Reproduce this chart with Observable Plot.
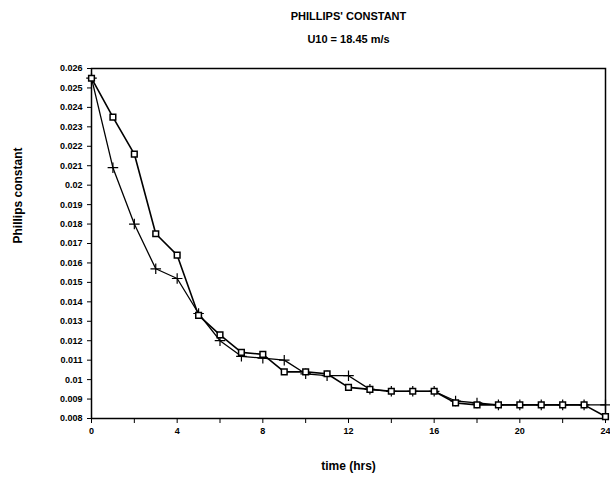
<!DOCTYPE html>
<html><head>
<script src="https://cdn.jsdelivr.net/npm/d3@7"></script>
<script src="https://cdn.jsdelivr.net/npm/@observablehq/plot@0.6"></script>
<style>body{margin:0;background:#fff;font-family:"Liberation Sans",Arial,sans-serif}</style>
</head><body><div id="c"></div>
<script>
const hours = d3.range(0,25);
const squareSeries = [0.0255,0.0235,0.0216,0.0175,0.0164,0.0133,0.0123,0.0114,0.0113,0.0104,0.0104,0.0103,0.0096,0.0095,0.0094,0.0094,0.0094,0.0088,0.0087,0.0087,0.0087,0.0087,0.0087,0.0087,0.0081];
const plusSeries = [0.0255,0.0209,0.0180,0.0157,0.0152,0.0134,0.0120,0.0112,0.0111,0.0110,0.0103,0.0102,0.0102,0.0095,0.0094,0.0094,0.0094,0.0089,0.0088,0.0087,0.0087,0.0087,0.0087,0.0087,0.0087];
const yTicks = d3.range(8,27).map(v=>v/1000);
const xTicks = d3.range(0,25,2);
const sq = hours.map((h,i)=>({h,v:squareSeries[i]}));
const pl = hours.map((h,i)=>({h,v:plusSeries[i]}));
const chart = Plot.plot({
  width:610, height:478, marginLeft:91, marginRight:5, marginTop:68, marginBottom:60,
  style:{fontFamily:"Liberation Sans, Arial, sans-serif", fontWeight:"bold", fontSize:"9px", color:"#000"},
  x:{domain:[0,24], label:null},
  y:{domain:[0.008,0.026], label:null},
  marks:[
    Plot.frame({stroke:"#000", strokeWidth:1.5}),
    Plot.axisX({ticks:xTicks, tickFormat:d=>d%4===0?d:"", tickSize:5, label:null}),
    Plot.axisY({ticks:yTicks, tickFormat:d=>String(+d.toFixed(3)), tickSize:4, label:null}),
    Plot.line(pl,{x:"h",y:"v",stroke:"#000",strokeWidth:1.3}),
    Plot.dot(pl,{x:"h",y:"v",symbol:"plus",r:3.5,stroke:"#000",strokeWidth:1.2}),
    Plot.line(sq,{x:"h",y:"v",stroke:"#000",strokeWidth:1.6}),
    Plot.dot(sq,{x:"h",y:"v",symbol:"square",r:3.2,stroke:"#000",fill:"#fff",strokeWidth:1.5}),
    Plot.text(["PHILLIPS' CONSTANT"],{frameAnchor:"top",dy:-56,fontSize:11,fontWeight:"bold",text:d=>d}),
    Plot.text(["U10 = 18.45 m/s"],{frameAnchor:"top",dy:-33,fontSize:11,fontWeight:"bold",text:d=>d}),
    Plot.text(["time (hrs)"],{frameAnchor:"bottom",dy:51,fontSize:12,fontWeight:"bold",text:d=>d}),
    Plot.text(["Phillips constant"],{frameAnchor:"left",dx:-73,rotate:-90,fontSize:12,fontWeight:"bold",text:d=>d})
  ]
});
document.getElementById("c").append(chart);
</script></body></html>
